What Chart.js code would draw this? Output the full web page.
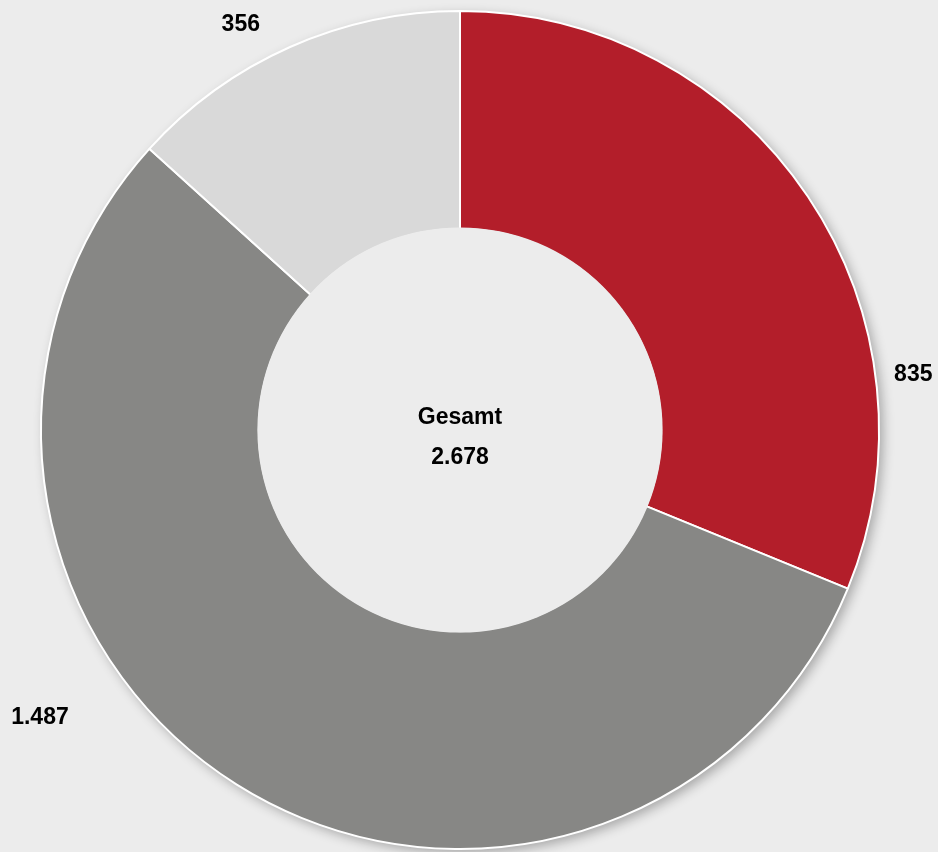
<!DOCTYPE html>
<html>
<head>
<meta charset="utf-8">
<script src="https://cdn.jsdelivr.net/npm/chart.js@4/dist/chart.umd.min.js"></script>
<style>
  html, body { margin: 0; padding: 0; background: #ececec; }
  #wrap { width: 938px; height: 852px; }
</style>
</head>
<body>
<div id="wrap"><canvas id="chart"></canvas></div>
<script>
const categories = ["A", "B", "C"];
const values = [835, 1487, 356];
const colors = ["#b31e2a", "#878785", "#d9d9d9"];
const centerTitle = "Gesamt";

// where the value labels sit: angle in degrees (0 = right, clockwise), distance as share of the radius
const labelSpots = [
    { angle: -7, dist: 1.09 },
    { angle: 145.6, dist: 1.215 },
    { angle: -118.4, dist: 1.10 }
];

function formatDE(n) {
    return String(n).replace(/\B(?=(\d{3})+(?!\d))/g, ".");
}

// soft shadow behind the outer edge only: one full disc drawn under the arcs
const shadowPlugin = {
    id: "shadow",
    beforeDatasetsDraw(chart) {
        let ctx = chart.ctx;
        let arc = chart.getDatasetMeta(0).data[0];
        if (!arc) return;
        ctx.save();
        ctx.shadowColor = "rgba(0,0,0,0.30)";
        ctx.shadowBlur = 12;
        ctx.shadowOffsetX = 4;
        ctx.shadowOffsetY = 4;
        ctx.beginPath();
        ctx.arc(arc.x, arc.y, arc.outerRadius, 0, Math.PI * 2);
        ctx.fillStyle = "#ffffff";
        ctx.fill();
        ctx.restore();
    }
};

const labelPlugin = {
    id: "labels",
    afterDatasetsDraw(chart) {
        let ctx = chart.ctx;
        let meta = chart.getDatasetMeta(0);
        let arc = meta.data[0];
        let cx = arc.x, cy = arc.y;
        let outer = arc.outerRadius, inner = arc.innerRadius;

        // cover the inner edge stroke so the hole has no white ring
        ctx.save();
        ctx.beginPath();
        ctx.arc(cx, cy, inner + 1.5, 0, Math.PI * 2);
        ctx.fillStyle = "#ececec";
        ctx.fill();

        ctx.fillStyle = "#000";
        ctx.textAlign = "center";
        ctx.textBaseline = "middle";
        ctx.font = "bold 23px 'Liberation Sans', Arial, sans-serif";

        values.forEach((v, i) => {
            let spot = labelSpots[i];
            let a = spot.angle * Math.PI / 180;
            ctx.fillText(formatDE(v), cx + Math.cos(a) * outer * spot.dist, cy + Math.sin(a) * outer * spot.dist);
        });

        let total = values.reduce((s, v) => s + v, 0);
        ctx.fillText(centerTitle, cx, cy - 12);
        ctx.fillText(formatDE(total), cx, cy + 28);
        ctx.restore();
    }
};

let config = {
    type: "doughnut",
    data: {
        labels: categories,
        datasets: [{
            data: values,
            backgroundColor: colors,
            borderColor: "#ffffff",
            borderWidth: 2,
            hoverOffset: 0
        }]
    },
    options: {
        responsive: true,
        maintainAspectRatio: false,
        animation: false,
        cutout: "48%",
        layout: { padding: { left: 40, right: 58, top: 10, bottom: 2 } },
        plugins: {
            legend: { display: false },
            tooltip: { enabled: false }
        }
    },
    plugins: [shadowPlugin, labelPlugin]
};

new Chart(document.getElementById("chart"), config);
</script>
</body>
</html>
